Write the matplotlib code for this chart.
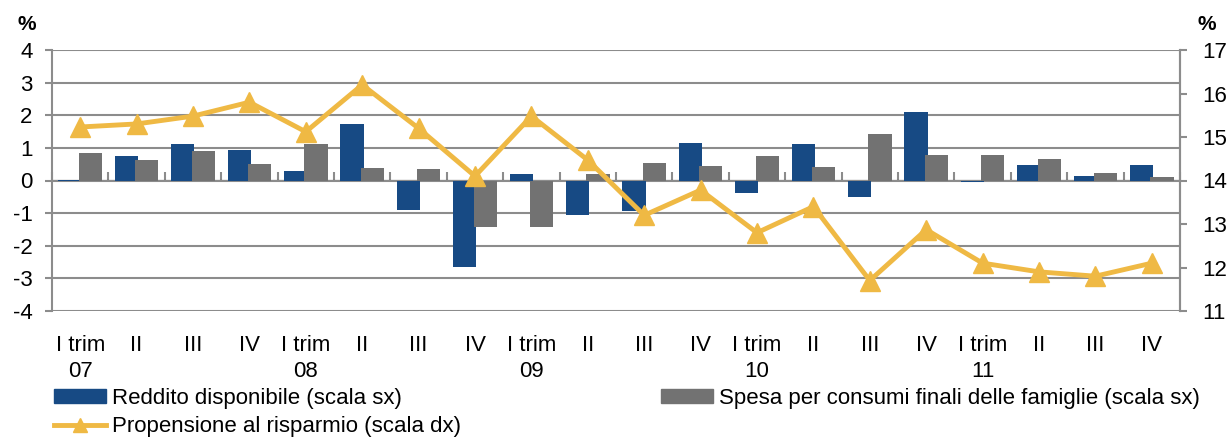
import numpy as np
import matplotlib
matplotlib.use("Agg")
import matplotlib.pyplot as plt
from matplotlib.patches import Patch
from matplotlib.lines import Line2D

plt.rcParams["font.family"] = ["Liberation Sans", "DejaVu Sans"]
plt.rcParams["axes.unicode_minus"] = False

# quarters 2007-2011
quarters = ["I trim\n07", "II", "III", "IV",
            "I trim\n08", "II", "III", "IV",
            "I trim\n09", "II", "III", "IV",
            "I trim\n10", "II", "III", "IV",
            "I trim\n11", "II", "III", "IV"]

# left scale (%)
reddito = [0.02, 0.74, 1.11, 0.92, 0.29, 1.72, -0.89, -2.66, 0.21, -1.05,
           -0.94, 1.16, -0.38, 1.11, -0.51, 2.10, -0.06, 0.47, 0.14, 0.48]
spesa = [0.85, 0.64, 0.91, 0.51, 1.11, 0.37, 0.36, -1.43, -1.43, 0.20,
         0.54, 0.45, 0.75, 0.40, 1.43, 0.79, 0.79, 0.66, 0.24, 0.12]
# right scale (%)
propensione = [15.23, 15.30, 15.48, 15.80, 15.12, 16.20, 15.20, 14.10, 15.48, 14.47,
               13.20, 13.78, 12.80, 13.40, 11.70, 12.87, 12.10, 11.90, 11.80, 12.10]

BLUE = "#174a84"
GREY = "#727272"
YELLOW = "#efb944"
GRID = "#8c8c8c"

fig = plt.figure(figsize=(12.31, 4.38), dpi=100)
ax = fig.add_axes([52 / 1231, 1 - 311 / 438, (1180 - 52) / 1231, (311 - 50) / 438])

x = np.arange(len(quarters))
w = 0.41
ax.bar(x - 0.18, reddito, w, color=BLUE, zorder=3)
ax.bar(x + 0.18, spesa, w, color=GREY, zorder=3)

ax.set_xlim(-0.5, len(quarters) - 0.5)
ax.set_ylim(-4, 4)
ax.set_yticks(range(-4, 5))
ax.yaxis.grid(True, color=GRID, lw=1.5, zorder=0)
ax.tick_params(axis="y", labelsize=16, length=5, width=1.5, color=GRID, pad=9)
ax.set_xticks(x)
ax.set_xticklabels(quarters, fontsize=16, linespacing=1.35)
ax.tick_params(axis="x", length=0, pad=17)
for s in ["top", "bottom"]:
    ax.spines[s].set_visible(False)
for s in ["left", "right"]:
    ax.spines[s].set_color(GRID)
    ax.spines[s].set_linewidth(1.5)

# zero axis with category-boundary ticks
zero = ax.secondary_xaxis(0.5)
zero.set_xticks(np.arange(len(quarters) + 1) - 0.5)
zero.set_xticklabels([])
zero.tick_params(direction="out", length=6, width=1.5, color=GRID)
zero.spines["bottom"].set_color(GRID)
zero.spines["bottom"].set_linewidth(1.5)

ax2 = ax.twinx()
ax2.set_ylim(11, 17)
ax2.set_yticks(range(11, 18))
ax2.tick_params(axis="y", labelsize=16, length=5, width=1.5, color=GRID, pad=11)
for s in ["top", "bottom", "left"]:
    ax2.spines[s].set_visible(False)
ax2.spines["right"].set_color(GRID)
ax2.spines["right"].set_linewidth(1.5)
ax2.plot(x, propensione, color=YELLOW, lw=3.5, marker="^", markersize=14, zorder=4)

fig.text(18 / 1231, 1 - 24 / 438, "%", fontsize=15, fontweight="bold", ha="left", va="center")
fig.text(1197 / 1231, 1 - 24 / 438, "%", fontsize=15, fontweight="bold", ha="left", va="center")

handles = [Patch(color=BLUE, label="Reddito disponibile (scala sx)"),
           Line2D([], [], color=YELLOW, lw=3.5, marker="^", markersize=10,
                  label="Propensione al risparmio (scala dx)"),
           Patch(color=GREY, label="Spesa per consumi finali delle famiglie (scala sx)")]
fig.legend(handles=handles, ncol=2, loc="upper left", bbox_to_anchor=(54 / 1231, 1 - 388 / 438),
           frameon=False, fontsize=16, handlelength=2.35, handleheight=0.55, handletextpad=0.25,
           columnspacing=9.0, labelspacing=0.32, borderaxespad=0, borderpad=0)

fig.savefig("out.png", dpi=100)
